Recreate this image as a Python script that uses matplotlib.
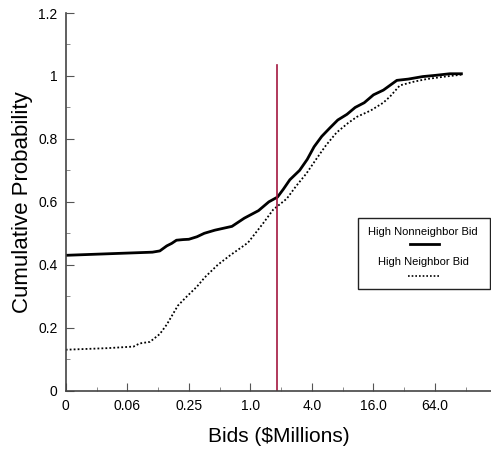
import numpy as np
import matplotlib.pyplot as plt
from matplotlib.lines import Line2D
from matplotlib.patches import Rectangle

plt.rcParams['font.family'] = ['Liberation Sans', 'DejaVu Sans']

# bids in $ millions (log base-4 axis, "0" sits at 1/64)
nonneighbor_x = [0.0156, 0.05, 0.110, 0.13, 0.152, 0.17, 0.189, 0.22, 0.25, 0.30, 0.354, 0.45,
                 0.660, 0.871, 1.2, 1.516, 1.84, 2.1, 2.43, 3.03, 3.6, 4.2, 4.99, 6.0, 7.16,
                 8.8, 10.6, 13.0, 16.0, 20.0, 27.1, 35.0, 48.5, 65.0, 89.2, 116.0]
nonneighbor_y = [0.430, 0.436, 0.440, 0.444, 0.460, 0.468, 0.478, 0.480, 0.481, 0.489, 0.500, 0.510,
                 0.522, 0.548, 0.572, 0.600, 0.615, 0.640, 0.670, 0.700, 0.735, 0.775, 0.808, 0.835, 0.860,
                 0.878, 0.900, 0.915, 0.940, 0.955, 0.986, 0.990, 0.998, 1.002, 1.007, 1.007]

neighbor_x = [0.0156, 0.04, 0.0718, 0.0825, 0.104, 0.130, 0.152, 0.195, 0.240, 0.299, 0.358,
              0.480, 0.633, 0.946, 1.32, 1.67, 2.27, 2.8, 3.53, 4.5, 5.5, 6.96, 9.0, 11.0,
              15.0, 19.97, 23.3, 29.0, 40.0, 52.7, 80.0, 116.0]
neighbor_y = [0.130, 0.135, 0.140, 0.150, 0.155, 0.180, 0.210, 0.270, 0.300, 0.330, 0.360,
              0.400, 0.430, 0.470, 0.530, 0.575, 0.610, 0.650, 0.690, 0.740, 0.780, 0.820, 0.850, 0.870,
              0.890, 0.915, 0.935, 0.970, 0.982, 0.990, 0.998, 1.004]

tick_vals = [1 / 64, 1 / 16, 1 / 4, 1, 4, 16, 64]
tick_labels = ['0', '0.06', '0.25', '1.0', '4.0', '16.0', '64.0']

cutoff = 1.84
cutoff_top = 1.035

fig = plt.figure(figsize=(4.91, 4.49), dpi=100)
ax = fig.add_axes([0.134, 0.130, 0.866, 0.841])

ax.plot(nonneighbor_x, nonneighbor_y, color='black', lw=2.0)
ax.plot(neighbor_x, neighbor_y, color='black', lw=1.3, ls=(0, (1, 1.2)))
ax.plot([cutoff, cutoff], [0, cutoff_top], color='#a3163f', lw=1.2)

ax.set_xscale('log', base=4)
ax.set_xlim(1 / 64, 4 ** 3.91)
ax.set_ylim(0, 1.2)
ax.set_xticks(tick_vals)
ax.set_xticklabels(tick_labels)
ax.set_xticks([4 ** (k + 0.5) for k in range(-3, 4)], minor=True)
ax.set_xticklabels([], minor=True)
ax.set_yticks([0, 0.2, 0.4, 0.6, 0.8, 1.0, 1.2])
ax.set_yticklabels(['0', '0.2', '0.4', '0.6', '0.8', '1', '1.2'])
ax.set_yticks(np.arange(0.1, 1.2, 0.2), minor=True)

ax.tick_params(which='major', direction='in', length=6, width=0.8, labelsize=10, pad=6, color='#555555')
ax.tick_params(which='minor', direction='in', length=3, width=0.6, color='#777777')

for s in ['top', 'right']:
    ax.spines[s].set_visible(False)
for s in ['left', 'bottom']:
    ax.spines[s].set_color('#444444')
    ax.spines[s].set_linewidth(1.2)

ax.set_xlabel('Bids ($Millions)', fontsize=15, labelpad=10)
ax.set_ylabel('Cumulative Probability', fontsize=16, labelpad=4)

# legend box with labels above their line samples
ax.add_patch(Rectangle((0.687, 0.269), 0.31, 0.188, transform=ax.transAxes,
                       fill=False, ec='#222222', lw=1.0, clip_on=False))
ax.text(0.84, 0.420, 'High Nonneighbor Bid', transform=ax.transAxes, ha='center', va='center', fontsize=8)
ax.add_line(Line2D([0.81, 0.878], [0.388, 0.388], transform=ax.transAxes, color='black', lw=2.0))
ax.text(0.84, 0.341, 'High Neighbor Bid', transform=ax.transAxes, ha='center', va='center', fontsize=8)
ax.add_line(Line2D([0.805, 0.878], [0.304, 0.304], transform=ax.transAxes, color='black', lw=1.2,
                   ls=(0, (1, 1.2))))

fig.savefig('out.png', dpi=100)
